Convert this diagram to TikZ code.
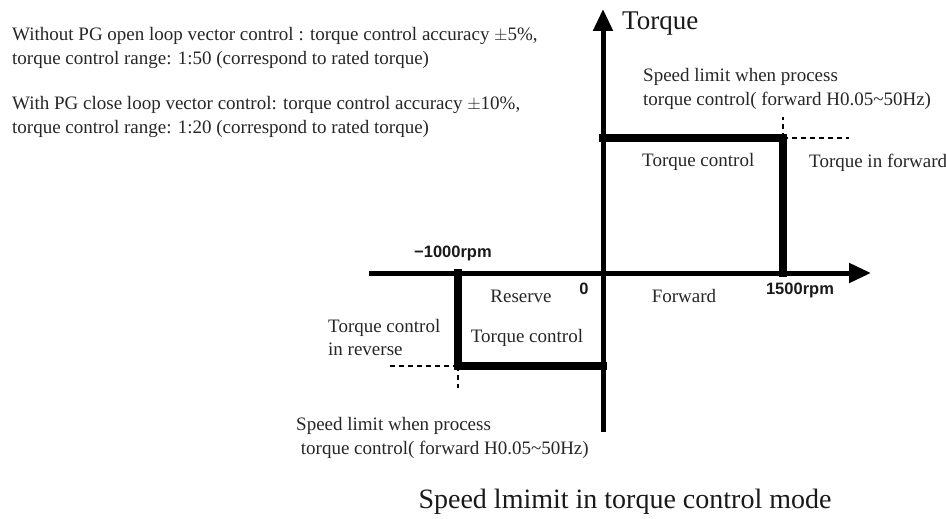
\documentclass[tikz,border=0pt]{standalone}
\usepackage{fontspec}
\setmainfont{Liberation Serif}
\newfontfamily\numfont{Liberation Sans}
\usetikzlibrary{arrows.meta}
\begin{document}
\begin{tikzpicture}[x=1pt,y=-1pt,
  axis/.style={line width=5pt,-{Triangle[length=22pt,width=19pt]}},
  boxline/.style={line width=7.5pt,line join=miter,line cap=rect},
  dashline/.style={line width=1.8pt,dash pattern=on 5pt off 4pt},
  small/.style={font=\fontsize{19}{23.5}\selectfont,inner sep=0pt,align=left,text=black!85},
  lbl/.style={font=\fontsize{19}{23}\selectfont,inner sep=0pt,text=black!85},
  num/.style={font=\numfont\bfseries\fontsize{16.5}{18}\selectfont,inner sep=0pt,text=black!90},
  big/.style={font=\fontsize{28}{32}\selectfont,inner sep=0pt,text=black!90}]
\useasboundingbox (0,0) rectangle (946,519);
% coordinates
\coordinate (xl) at (369,273);
\coordinate (xr) at (871,273);
\coordinate (yb) at (603,432);
\coordinate (yt) at (603,9);
\coordinate (F1) at (603,138);
\coordinate (F2) at (783,138);
\coordinate (F3) at (783,273);
\coordinate (R1) at (458,273);
\coordinate (R2) at (458,366);
\coordinate (R3) at (603,366);
\coordinate (Fd) at (849,138);
\coordinate (Fu) at (783,117);
\coordinate (Rd) at (389,366);
\coordinate (Ru) at (458,388);
% axes
\draw[axis] (xl) -- (xr);
\draw[axis] (yb) -- (yt);
% boxes
\draw[boxline] (F1) -- (F2) -- (F3);
\draw[boxline] (R1) -- (R2) -- (R3);
% dashed
\draw[dashline] (F2) -- (Fd);
\draw[dashline] (F2) -- (Fu);
\draw[dashline] (R2) -- (Rd);
\draw[dashline] (R2) -- (Ru);
% texts
\node[small,anchor=west] (t1) at (12,48) {Without PG open loop vector control : torque control accuracy $\pm$5\%,\\torque control range: 1:50 (correspond to rated torque)};
\node[small,anchor=west] (t2) at (12,117) {With PG close loop vector control: torque control accuracy $\pm$10\%,\\torque control range: 1:20 (correspond to rated torque)};
\node[font=\fontsize{27}{30}\selectfont,inner sep=0pt,anchor=west,text=black!90] (tq) at (622,24) {Torque};
\node[small,anchor=west] (sl1) at (643,89) {Speed limit when process\\torque control( forward H0.05\textasciitilde50Hz)};
\node[lbl,anchor=west] (tc1) at (642,162) {Torque control};
\node[lbl,anchor=west] (tf) at (809,163) {Torque in forward};
\node[num] (m1000) at (453,253) {\textminus1000rpm};
\node[num] (zero) at (584,289) {0};
\node[num] (p1500) at (800,290) {1500rpm};
\node[lbl] (rev) at (521,296) {Reserve};
\node[lbl] (fwd) at (684,296) {Forward};
\node[lbl] (tc2) at (527,338) {Torque control};
\node[lbl,anchor=west,align=left] (tcr) at (328,337) {Torque control\\in reverse};
\node[small,anchor=west] (sl2) at (296,438) {Speed limit when process\\\ torque control( forward H0.05\textasciitilde50Hz)};
\node[big] (cap) at (625,502) {Speed lmimit in torque control mode};
\end{tikzpicture}
\end{document}
